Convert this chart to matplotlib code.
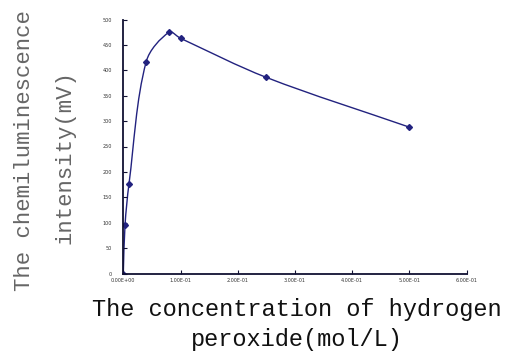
import matplotlib
matplotlib.use("Agg")
import matplotlib.pyplot as plt
import numpy as np
from matplotlib.path import Path
from matplotlib.patches import PathPatch
from matplotlib.ticker import FuncFormatter, MultipleLocator

# H2O2 concentration (mol/L) vs chemiluminescence intensity (mV)
conc = [0.0, 0.003, 0.01, 0.04, 0.08, 0.10, 0.25, 0.50]
intensity = [0, 95, 177, 417, 475, 463, 386, 288]

x_ticks = [0.0, 0.1, 0.2, 0.3, 0.4, 0.5, 0.6]
y_ticks = list(range(0, 501, 50))

line_color = "#22227f"


def smooth_path(ax, xs, ys):
    # cubic Bezier through each point; tangents are worked out in screen
    # space and shortened on uneven spacing so the curve doesn't overshoot
    to_disp = ax.transData
    pts = to_disp.transform(np.column_stack([xs, ys]).astype(float))
    n = len(pts)
    tang = []
    for i in range(n):
        if i == 0:
            t = pts[1] - pts[0]
        elif i == n - 1:
            t = pts[-1] - pts[-2]
        else:
            d0 = np.linalg.norm(pts[i] - pts[i - 1])
            d1 = np.linalg.norm(pts[i + 1] - pts[i])
            t = (pts[i + 1] - pts[i - 1]) / (d0 + d1)
        tang.append(t)
    verts = [pts[0]]
    codes = [Path.MOVETO]
    for i in range(n - 1):
        d = np.linalg.norm(pts[i + 1] - pts[i])
        t0 = tang[i] if i > 0 else tang[i] / max(d, 1e-9)
        t1 = tang[i + 1] if i + 1 < n - 1 else tang[i + 1] / max(d, 1e-9)
        c1 = pts[i] + t0 * d / 3.0
        c2 = pts[i + 1] - t1 * d / 3.0
        verts += [c1, c2, pts[i + 1]]
        codes += [Path.CURVE4] * 3
    data_verts = to_disp.inverted().transform(np.array(verts))
    return Path(data_verts, codes)


fig = plt.figure(figsize=(5.06, 3.54), dpi=100)
ax = fig.add_axes([123.3 / 506, (354 - 273.5) / 354,
                   (466.7 - 123.3) / 506, (273.5 - 19.5) / 354])

ax.set_xlim(0, 0.6)
ax.set_ylim(0, 500)

ax.add_patch(PathPatch(smooth_path(ax, conc, intensity), facecolor="none",
                       edgecolor=line_color, lw=1.0))
ax.plot(conc, intensity, linestyle="none", marker="D", markersize=3,
        color=line_color)

ax.xaxis.set_major_locator(MultipleLocator(0.1))
ax.yaxis.set_major_locator(MultipleLocator(50))
ax.xaxis.set_major_formatter(FuncFormatter(lambda v, p: f"{v:.2E}"))
ax.yaxis.set_major_formatter(FuncFormatter(lambda v, p: f"{int(round(v))}"))

for side in ("top", "right"):
    ax.spines[side].set_visible(False)
for side in ("left", "bottom"):
    ax.spines[side].set_color("#111133")
    ax.spines[side].set_linewidth(1.3)

ax.tick_params(axis="both", direction="in", length=3, width=0.8,
               labelsize=3.5, colors="#111133", labelcolor="#333333")
ax.tick_params(axis="y", pad=8)
ax.tick_params(axis="x", pad=3)

mono = "Liberation Mono"
fig.text(297 / 506, 1 - 316 / 354, "The concentration of hydrogen",
         family=mono, fontsize=17, ha="center", va="baseline", color="#111111")
fig.text(297 / 506, 1 - 346 / 354, "peroxide(mol/L)",
         family=mono, fontsize=17, ha="center", va="baseline", color="#111111")
fig.text(25 / 506, 1 - 151 / 354, "The chemiluminescence",
         family=mono, fontsize=16, ha="center", va="center", rotation=90,
         color="#666666")
fig.text(65 / 506, 1 - 157 / 354, "intensity(mV)",
         family=mono, fontsize=16, ha="center", va="center", rotation=90,
         color="#666666")

fig.savefig("out.png", dpi=100, facecolor="white")
